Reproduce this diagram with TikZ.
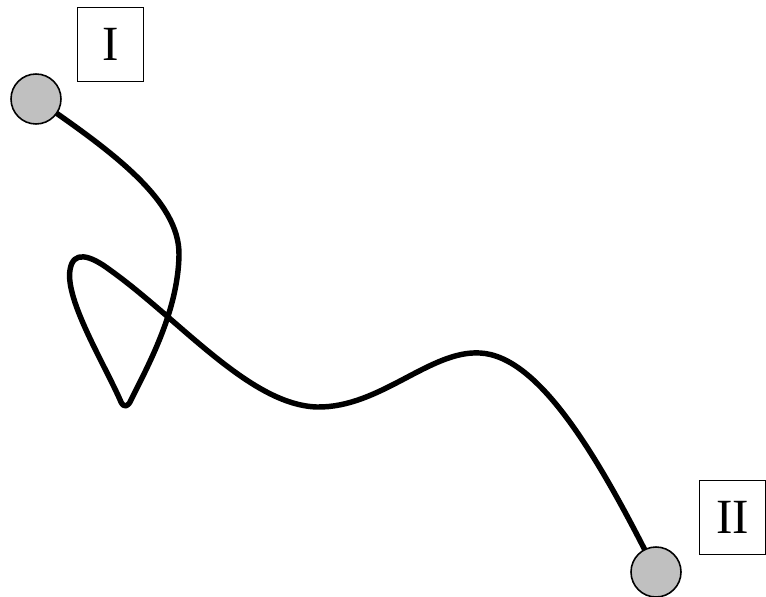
\documentclass[tikz,border=0pt]{standalone}
\usepackage{fontspec}
\setmainfont{Liberation Serif}
\usepackage{xcolor}
\definecolor{end_grey}{RGB}{192, 192, 192}

\begin{document}
\begin{tikzpicture}[x=0.02cm, y=-0.02cm,
    endpt/.style={draw=black, fill=end_grey, circle, line width=0.9pt,
                  minimum size=1.0cm, inner sep=0pt},
    tag/.style={draw=black, line width=0.8pt, minimum width=1.32cm,
                minimum height=1.48cm, inner sep=0pt,
                font=\fontsize{28}{30}\selectfont},
    pathline/.style={line width=3.1pt, line cap=round, line join=round}]
        \useasboundingbox (0,0) rectangle (766,597);
        \coordinate (startpt) at (36,99);
        \coordinate (endpt2) at (656,572);
        \draw[pathline] (startpt)
          .. controls (110,150) and (180,200) .. (179,255)
          .. controls (178,310) and (150,362) .. (131,400)
          .. controls (128,407) and (124,408) .. (121,402)
          .. controls (105,365) and (65,300) .. (70,270)
          .. controls (73,250) and (90,255) .. (110,270)
          .. controls (180,320) and (250,405) .. (317,407)
          .. controls (380,408) and (430,350) .. (480,353)
          .. controls (540,356) and (600,460) .. (endpt2);
        \node[endpt] (pI) at (startpt) {};
        \node[endpt] (pII) at (endpt2) {};
        \node[tag] (labI) at (110.5,44.5) {I};
        \node[tag] (labII) at (732.5,517.5) {II};
      \end{tikzpicture}
\end{document}
